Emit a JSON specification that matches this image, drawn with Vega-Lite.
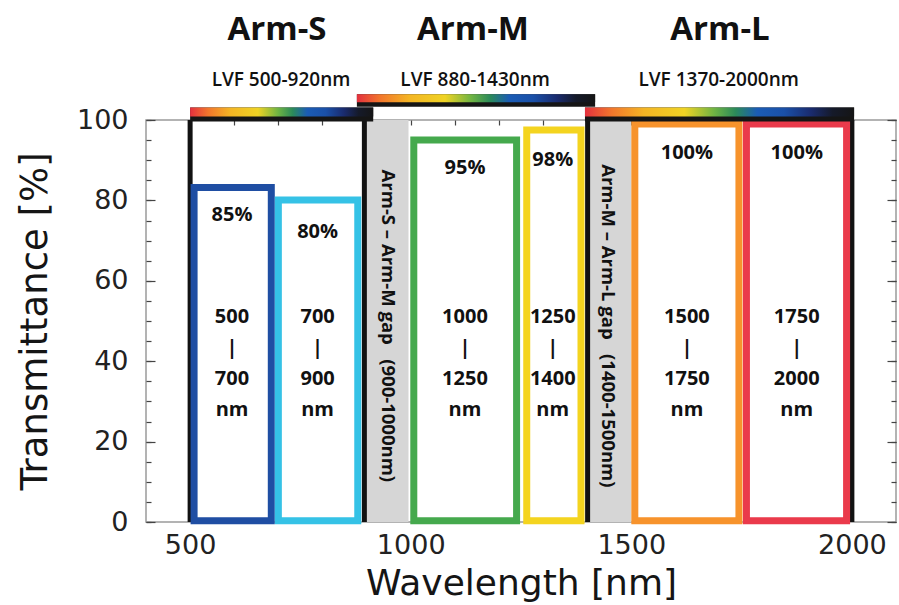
{
  "$schema": "https://vega.github.io/schema/vega-lite/v6.json",
  "width": 750,
  "height": 402,
  "autosize": "none",
  "padding": {"left": 146, "top": 120, "right": 3, "bottom": 83},
  "background": "white",
  "config": {
    "view": {"stroke": "#9a9a9a", "strokeWidth": 1.5},
    "axis": {
      "labelFont": "DejaVu Sans",
      "labelFontSize": 27,
      "labelColor": "#222222",
      "titleFont": "DejaVu Sans",
      "titleFontSize": 37,
      "titleFontWeight": "normal",
      "titleColor": "#151515",
      "domain": false,
      "grid": false,
      "tickColor": "#444444",
      "tickWidth": 1.2
    }
  },
  "datasets": {
    "gaps": [
      {"x0": 900, "x1": 995, "y0": 0, "y1": 100, "xm": 948, "ym": 48.8, "t": "Arm-S – Arm-M gap\u00a0\u00a0\u00a0(900-1000nm)"},
      {"x0": 1402, "x1": 1500, "y0": 0, "y1": 100, "xm": 1448, "ym": 48.8, "t": "Arm-M – Arm-L gap\u00a0\u00a0\u00a0(1400-1500nm)"}
    ],
    "frames": [
      {"x": 500, "y0": 0, "y1": 100},
      {"x": 895, "y0": 0, "y1": 100},
      {"x": 1401, "y0": 0, "y1": 100},
      {"x": 2000, "y0": 0, "y1": 100}
    ],
    "boxes": [
      {"c": "blue", "x0": 509, "x1": 684, "y0": 0.3, "y1": 83.2, "xm": 595, "pct": "85%", "py": 76.4, "rng": "500\n|\n700\nnm"},
      {"c": "cyan", "x0": 700, "x1": 880, "y0": 0.3, "y1": 80.1, "xm": 789, "pct": "80%", "py": 72.1, "rng": "700\n|\n900\nnm"},
      {"c": "green", "x0": 1007, "x1": 1240, "y0": 0.3, "y1": 95.0, "xm": 1123, "pct": "95%", "py": 88.1, "rng": "1000\n|\n1250\nnm"},
      {"c": "yellow", "x0": 1263, "x1": 1386, "y0": 0.3, "y1": 97.5, "xm": 1322, "pct": "98%", "py": 90.0, "rng": "1250\n|\n1400\nnm"},
      {"c": "orange", "x0": 1508, "x1": 1744, "y0": 0.3, "y1": 99.0, "xm": 1626, "pct": "100%", "py": 91.8, "rng": "1500\n|\n1750\nnm"},
      {"c": "red", "x0": 1761, "x1": 1988, "y0": 0.3, "y1": 99.0, "xm": 1875, "pct": "100%", "py": 91.8, "rng": "1750\n|\n2000\nnm"}
    ],
    "arms": [
      {"arm": "Arm-S", "lvf": "LVF 500-920nm", "x0": 500, "x1": 915, "yb": 99.6, "yg": 100.9, "yt": 103.1, "xt": 697, "xs": 706},
      {"arm": "Arm-M", "lvf": "LVF 880-1430nm", "x0": 878, "x1": 1418, "yb": 103.3, "yg": 104.4, "yt": 106.4, "xt": 1141, "xs": 1146},
      {"arm": "Arm-L", "lvf": "LVF 1370-2000nm", "x0": 1395, "x1": 2005, "yb": 99.6, "yg": 100.9, "yt": 103.1, "xt": 1701, "xs": 1698}
    ]
  },
  "resolve": {"axis": {"x": "independent", "y": "independent"}},
  "layer": [
    {
      "data": {"name": "gaps"},
      "mark": {"type": "rect", "fill": "#d6d6d6"},
      "encoding": {
        "x": {"field": "x0", "type": "quantitative", "scale": {"domain": [400, 2100], "nice": false, "zero": false},
              "axis": {"orient": "top", "values": [500, 600, 700, 800, 900, 1000, 1100, 1200, 1300, 1400, 1500, 1600, 1700, 1800, 1900, 2000], "labels": false, "tickSize": -5, "title": null}},
        "x2": {"field": "x1"},
        "y": {"field": "y0", "type": "quantitative", "scale": {"domain": [0, 100], "nice": false, "zero": false},
              "axis": {"orient": "left", "values": [0, 5, 10, 15, 20, 25, 30, 35, 40, 45, 50, 55, 60, 65, 70, 75, 80, 85, 90, 95, 100], "labels": false, "tickSize": -5, "title": null}},
        "y2": {"field": "y1"}
      }
    },
    {
      "data": {"name": "frames"},
      "mark": {"type": "rule", "strokeWidth": 5, "color": "#121212"},
      "encoding": {
        "x": {"field": "x", "type": "quantitative", "scale": {"domain": [400, 2100], "nice": false, "zero": false},
              "axis": {"orient": "bottom", "values": [500, 1000, 1500, 2000], "format": "d", "ticks": false, "labelPadding": 10, "title": "Wavelength [nm]", "titleY": 72, "titleBaseline": "alphabetic", "titleFontSize": 36}},
        "y": {"field": "y0", "type": "quantitative", "scale": {"domain": [0, 100], "nice": false, "zero": false},
              "axis": {"orient": "left", "values": [0, 20, 40, 60, 80, 100], "format": "d", "tickSize": -9, "labelPadding": 27, "title": "Transmittance [%]", "titlePadding": 22}},
        "y2": {"field": "y1"}
      }
    },
    {
      "data": {"name": "boxes"},
      "mark": {"type": "rect", "fill": "white", "fillOpacity": 0, "strokeWidth": 7},
      "encoding": {
        "x": {"field": "x0", "type": "quantitative", "scale": {"domain": [400, 2100], "nice": false, "zero": false}, "axis": null},
        "x2": {"field": "x1"},
        "y": {"field": "y0", "type": "quantitative", "scale": {"domain": [0, 100], "nice": false, "zero": false},
              "axis": {"orient": "right", "values": [0, 5, 10, 15, 20, 25, 30, 35, 40, 45, 50, 55, 60, 65, 70, 75, 80, 85, 90, 95, 100], "labels": false, "tickSize": -5, "title": null}},
        "y2": {"field": "y1"},
        "stroke": {"field": "c", "type": "nominal", "legend": null,
                   "scale": {"domain": ["blue", "cyan", "green", "yellow", "orange", "red"], "range": ["#1f4ea3", "#35c2e6", "#45a94d", "#f4d41f", "#f7932c", "#ea3a4b"]}}
      }
    },
    {
      "data": {"name": "arms"},
      "mark": {"type": "rect", "color": "#151515"},
      "encoding": {
        "x": {"field": "x0", "type": "quantitative", "scale": {"domain": [400, 2100], "nice": false, "zero": false}, "axis": null},
        "x2": {"field": "x1"},
        "y": {"field": "yb", "type": "quantitative", "scale": {"domain": [0, 100], "nice": false, "zero": false},
              "axis": {"orient": "right", "values": [0, 20, 40, 60, 80, 100], "labels": false, "tickSize": -9, "title": null}},
        "y2": {"field": "yt"}
      }
    },
    {
      "data": {"name": "arms"},
      "mark": {"type": "rect", "fill": {"gradient": "linear", "x1": 0, "y1": 0, "x2": 1, "y2": 0,
        "stops": [
          {"offset": 0, "color": "#e3303e"},
          {"offset": 0.1, "color": "#f2772c"},
          {"offset": 0.22, "color": "#f4b524"},
          {"offset": 0.37, "color": "#efd324"},
          {"offset": 0.48, "color": "#6fb443"},
          {"offset": 0.56, "color": "#2b8a5a"},
          {"offset": 0.64, "color": "#1b5cb5"},
          {"offset": 0.74, "color": "#1a50a8"},
          {"offset": 0.84, "color": "#1a2b6e"},
          {"offset": 0.92, "color": "#151a2a"},
          {"offset": 1, "color": "#151515"}
        ]}},
      "encoding": {
        "x": {"field": "x0", "type": "quantitative", "scale": {"domain": [400, 2100], "nice": false, "zero": false}, "axis": null},
        "x2": {"field": "x1"},
        "y": {"field": "yg", "type": "quantitative", "scale": {"domain": [0, 100], "nice": false, "zero": false}, "axis": null},
        "y2": {"field": "yt"}
      }
    },
    {
      "data": {"name": "arms"},
      "mark": {"type": "text", "font": "Open Sans", "fontWeight": "bold", "fontSize": 33, "color": "#111111", "baseline": "middle"},
      "encoding": {
        "x": {"field": "xt", "type": "quantitative", "scale": {"domain": [400, 2100], "nice": false, "zero": false}, "axis": null},
        "y": {"datum": 122.4, "type": "quantitative", "scale": {"domain": [0, 100], "nice": false, "zero": false}, "axis": null},
        "text": {"field": "arm"}
      }
    },
    {
      "data": {"name": "arms"},
      "mark": {"type": "text", "font": "Open Sans", "fontWeight": 600, "fontSize": 19, "color": "#111111", "baseline": "middle"},
      "encoding": {
        "x": {"field": "xs", "type": "quantitative", "scale": {"domain": [400, 2100], "nice": false, "zero": false}, "axis": null},
        "y": {"datum": 110, "type": "quantitative", "scale": {"domain": [0, 100], "nice": false, "zero": false}, "axis": null},
        "text": {"field": "lvf"}
      }
    },
    {
      "data": {"name": "boxes"},
      "mark": {"type": "text", "font": "Open Sans", "fontWeight": "bold", "fontSize": 20, "color": "#111111", "baseline": "middle"},
      "encoding": {
        "x": {"field": "xm", "type": "quantitative", "scale": {"domain": [400, 2100], "nice": false, "zero": false}, "axis": null},
        "y": {"field": "py", "type": "quantitative", "scale": {"domain": [0, 100], "nice": false, "zero": false}, "axis": null},
        "text": {"field": "pct"}
      }
    },
    {
      "data": {"name": "boxes"},
      "mark": {"type": "text", "font": "Open Sans", "fontWeight": "bold", "fontSize": 20, "color": "#111111", "baseline": "middle", "lineBreak": "\n", "lineHeight": 31},
      "encoding": {
        "x": {"field": "xm", "type": "quantitative", "scale": {"domain": [400, 2100], "nice": false, "zero": false}, "axis": null},
        "y": {"datum": 51.0, "type": "quantitative", "scale": {"domain": [0, 100], "nice": false, "zero": false}, "axis": null},
        "text": {"field": "rng"}
      }
    },
    {
      "data": {"name": "gaps"},
      "mark": {"type": "text", "font": "Open Sans", "fontWeight": "bold", "fontSize": 18.5, "color": "#111111", "baseline": "middle", "angle": 90},
      "encoding": {
        "x": {"field": "xm", "type": "quantitative", "scale": {"domain": [400, 2100], "nice": false, "zero": false}, "axis": null},
        "y": {"field": "ym", "type": "quantitative", "scale": {"domain": [0, 100], "nice": false, "zero": false}, "axis": null},
        "text": {"field": "t"}
      }
    }
  ]
}
